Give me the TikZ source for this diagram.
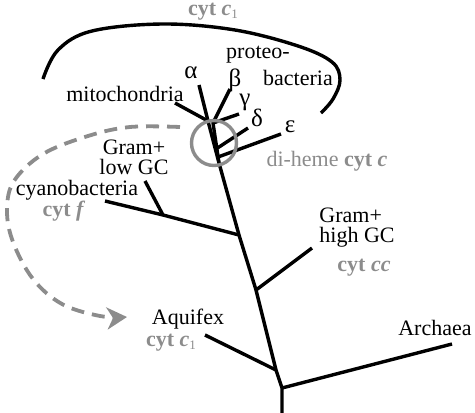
\documentclass[tikz,border=0pt]{standalone}
\usepackage{fontspec}
\setmainfont{Liberation Serif}
\usetikzlibrary{arrows.meta}
\definecolor{lgray}{RGB}{140,140,140}
\newcommand{\subone}{\raisebox{-0.3ex}{\fontsize{13}{13}\selectfont\mdseries 1}}
\tikzset{
  branch/.style={line width=3.4pt, line cap=butt, line join=round, black},
  lbl/.style={font=\fontsize{22}{23}\selectfont, inner sep=0pt, text=black, align=center},
  glbl/.style={font=\fontsize{22}{23}\selectfont\bfseries, inner sep=0pt, text=lgray},
  grk/.style={font=\fontsize{25}{26}\selectfont, inner sep=0pt},
}
\begin{document}
\begin{tikzpicture}[x=1pt,y=-1pt]
\useasboundingbox (0,0) rectangle (475,413);
% tree coordinates
\coordinate (root) at (282,413);
\coordinate (jAr) at (282,388);
\coordinate (arE) at (452,344);
\coordinate (jAq) at (276,370);
\coordinate (aqE) at (205,335);
\coordinate (jHG) at (256,290);
\coordinate (hgE) at (312,248);
\coordinate (jCy) at (239,235);
\coordinate (cyE) at (105,201);
\coordinate (jLG) at (163,215);
\coordinate (lgE) at (145,181);
\coordinate (jPr) at (219,163);
\coordinate (jMi) at (208,121);
\coordinate (miE) at (175,103);
\coordinate (alE) at (199,85);
\coordinate (pB) at (213,123);
\coordinate (beE) at (230,89);
\coordinate (gaE) at (239,114);
\coordinate (jDe) at (216,149);
\coordinate (deE) at (248,128);
\coordinate (jEp) at (218,157);
\coordinate (epE) at (281,134);
% trunk
\draw[branch] (root) -- (jAr) -- (jAq) -- (jHG) -- (jCy) -- (jPr) -- (jMi) -- (alE);
\draw[branch] (jAr) -- (arE);
\draw[branch] (jAq) -- (aqE);
\draw[branch] (jHG) -- (hgE);
\draw[branch] (jCy) -- (jLG) -- (cyE);
\draw[branch] (jLG) -- (lgE);
\draw[branch] (jMi) -- (miE);
\draw[branch] (jPr) -- (pB) -- (beE);
\draw[branch] (pB) -- (gaE);
\draw[branch] (jDe) -- (deE);
\draw[branch] (jEp) -- (epE);
% circle
\node[draw=lgray, line width=3.4pt, circle, minimum size=45pt, inner sep=0pt] (circ) at (214,143) {};
% bracket
\draw[line width=3.4pt, line cap=butt] plot[smooth, tension=0.6] coordinates
  {(43,79) (58,50) (92,31) (163,24) (235,30) (298,46) (332,62) (340,80) (333,99) (321,113)};
% dashed arrow
\coordinate (dS) at (180,127);
\coordinate (dT) at (127,317);
\draw[lgray, line width=3.8pt, dash pattern=on 13pt off 8pt, -{Stealth[width=22pt,length=20pt,inset=6pt]}]
  plot[smooth, tension=0.6] coordinates
  {(dS) (130,127) (88,136) (43,154) (14,181) (7,210) (13,242) (33,279) (62,304) (100,316) (dT)};
% labels
\node[glbl] (c1top) at (213,12) {cyt \textit{c}\subone};
\node[lbl] (proteo) at (258,55) {proteo-};
\node[lbl] (bact) at (298,78) {bacteria};
\node[grk] (alpha) at (191,73) {α};
\node[grk] (beta) at (235,80) {β};
\node[grk] (gamma) at (245,102) {γ};
\node[grk] (delta) at (257,118) {δ};
\node[grk] (eps) at (290,127) {ε};
\node[lbl] (mito) at (125,94) {mitochondria};
\node[glbl, font=\fontsize{22}{23}\selectfont] (dih) at (327,161) {di-heme \textbf{cyt \textit{c}}};
\node[lbl] (glow) at (134,157) {Gram+\\[-3pt]low GC};
\node[lbl] (cyano) at (77,190) {cyanobacteria};
\node[glbl] (cytf) at (64,211) {cyt \textit{f}};
\node[lbl, align=left] (ghigh) at (357,228) {Gram+\\[-3pt]high GC};
\node[glbl] (cytcc) at (364,268) {cyt \textit{cc}};
\node[lbl] (aquifex) at (188,319) {Aquifex};
\node[glbl] (c1aq) at (171,343) {cyt \textit{c}\subone};
\node[lbl] (archaea) at (435,328) {Archaea};
\end{tikzpicture}
\end{document}
